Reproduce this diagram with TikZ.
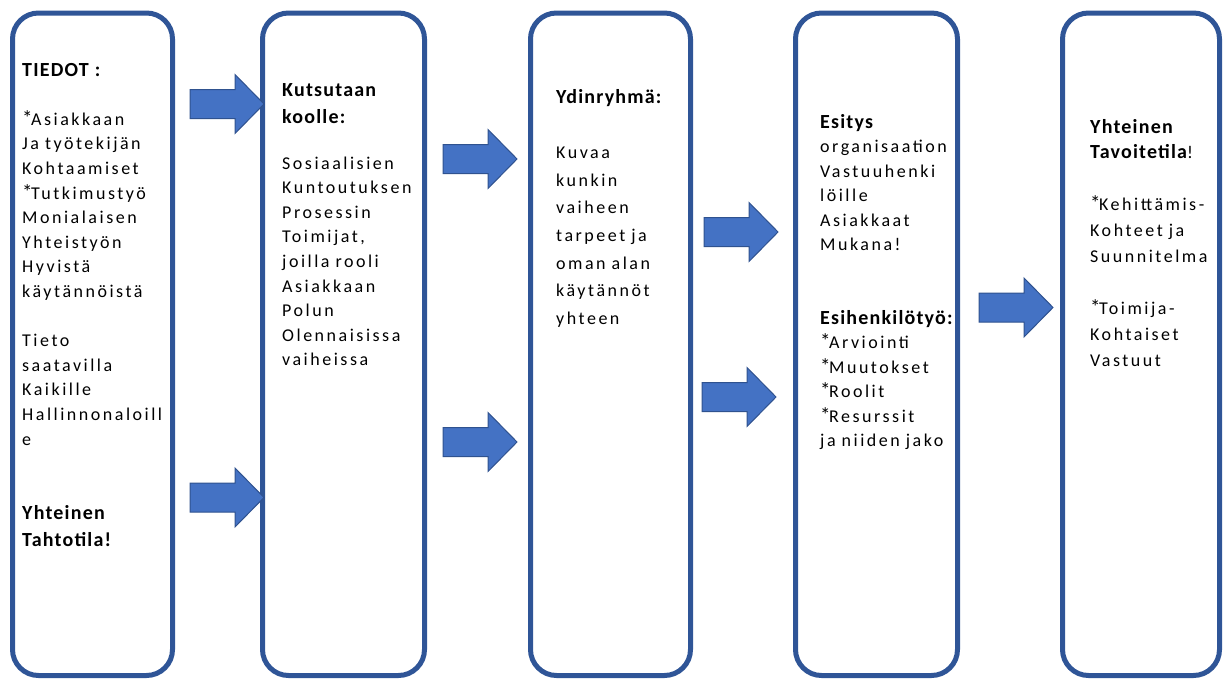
\documentclass[tikz,border=0pt]{standalone}
\usepackage{fontspec}
\usepackage{xcolor}
\setmainfont{Carlito}
\newfontfamily\spaced[LetterSpace=14]{Carlito}
\newfontfamily\hdfont[LetterSpace=6]{Carlito}
\newcommand{\hd}[1]{{\hdfont\bfseries\fontsize{20}{24}\selectfont #1}}
\newcommand{\stp}{\relax{\fontsize{21}{24}\selectfont*}\kern-1.5pt}
\definecolor{boxblue}{HTML}{2F5597}
\definecolor{arrowfill}{HTML}{4472C4}
\definecolor{arrowedge}{HTML}{2F528F}
\tikzset{
	stage/.style={draw=boxblue, line width=5pt, rounded corners=26pt, minimum height=662.5, inner sep=0},
	txt/.style={anchor=base west, inner sep=0, text width=140, align=left},
	bigarrow/.pic={
		\draw[fill=arrowfill, draw=arrowedge, line width=1pt] (0,-14.5) -- (45,-14.5) -- (45,-29.5) -- (74,0) -- (45,29.5) -- (45,14.5) -- (0,14.5) -- cycle;
	}
}

\begin{document}
\begin{tikzpicture}[x=1pt, y=-1pt]
				  \useasboundingbox (0,0) rectangle (1224,680);
				  \node[stage, minimum width=160] (tiedot) at (92.5,344.25) {};
				  \node[stage, minimum width=162] (koolle) at (343.5,344.25) {};
				  \node[stage, minimum width=160] (ydin) at (610.5,344.25) {};
				  \node[stage, minimum width=162] (esitys) at (876.5,344.25) {};
				  \node[stage, minimum width=157] (tavoite) at (1141,344.25) {};
				  \pic at (190,104) {bigarrow};
				  \pic at (190,497.5) {bigarrow};
				  \pic at (443,159) {bigarrow};
				  \pic at (443,442) {bigarrow};
				  \pic at (704,232) {bigarrow};
				  \pic at (702,397) {bigarrow};
				  \pic at (979,307.5) {bigarrow};
				  \node[txt, font=\spaced\fontsize{18}{24.6}\selectfont] (t1) at (22,76) {\hd{TIEDOT :}\\[24.6pt]\stp Asiakkaan\\Ja työtekijän\\Kohtaamiset\\\stp Tutkimustyö\\Monialaisen\\Yhteistyön\\Hyvistä\\käytännöistä\\[24.6pt]Tieto\\saatavilla\\Kaikille\\Hallinnonaloill\\e\\[50pt]\hd{Yhteinen}\\[2.4pt]\hd{Tahtotila!}};
				  \node[txt, font=\spaced\fontsize{18}{24.6}\selectfont] (t2) at (282,96) {\hd{Kutsutaan}\\[2.4pt]\hd{koolle:}\\[21.4pt]Sosiaalisien\\Kuntoutuksen\\Prosessin\\Toimijat,\\joilla rooli\\Asiakkaan\\Polun\\Olennaisissa\\vaiheissa};
				  \node[txt, font=\spaced\fontsize{18}{27.7}\selectfont] (t3) at (556,103) {\hd{Ydinryhmä:}\\[27.7pt]Kuvaa\\kunkin\\vaiheen\\tarpeet ja\\oman alan\\käytännöt\\yhteen};
				  \node[txt, font=\spaced\fontsize{18}{24.5}\selectfont] (t4) at (820,128) {\hd{Esitys}\\organisaation\\Vastuuhenki\\löille\\Asiakkaat\\Mukana!\\[49pt]\hd{Esihenkilötyö:}\\\stp Arviointi\\\stp Muutokset\\\stp Roolit\\\stp Resurssit\\ja niiden jako};
				  \node[txt, font=\spaced\fontsize{18}{25.9}\selectfont] (t5) at (1090,133) {\hd{Yhteinen}\\\hd{Tavoitetila}!\\[25.9pt]\stp Kehittämis-\\Kohteet ja\\Suunnitelma\\[25.9pt]\stp Toimija-\\Kohtaiset\\Vastuut};
				\end{tikzpicture}
\end{document}
